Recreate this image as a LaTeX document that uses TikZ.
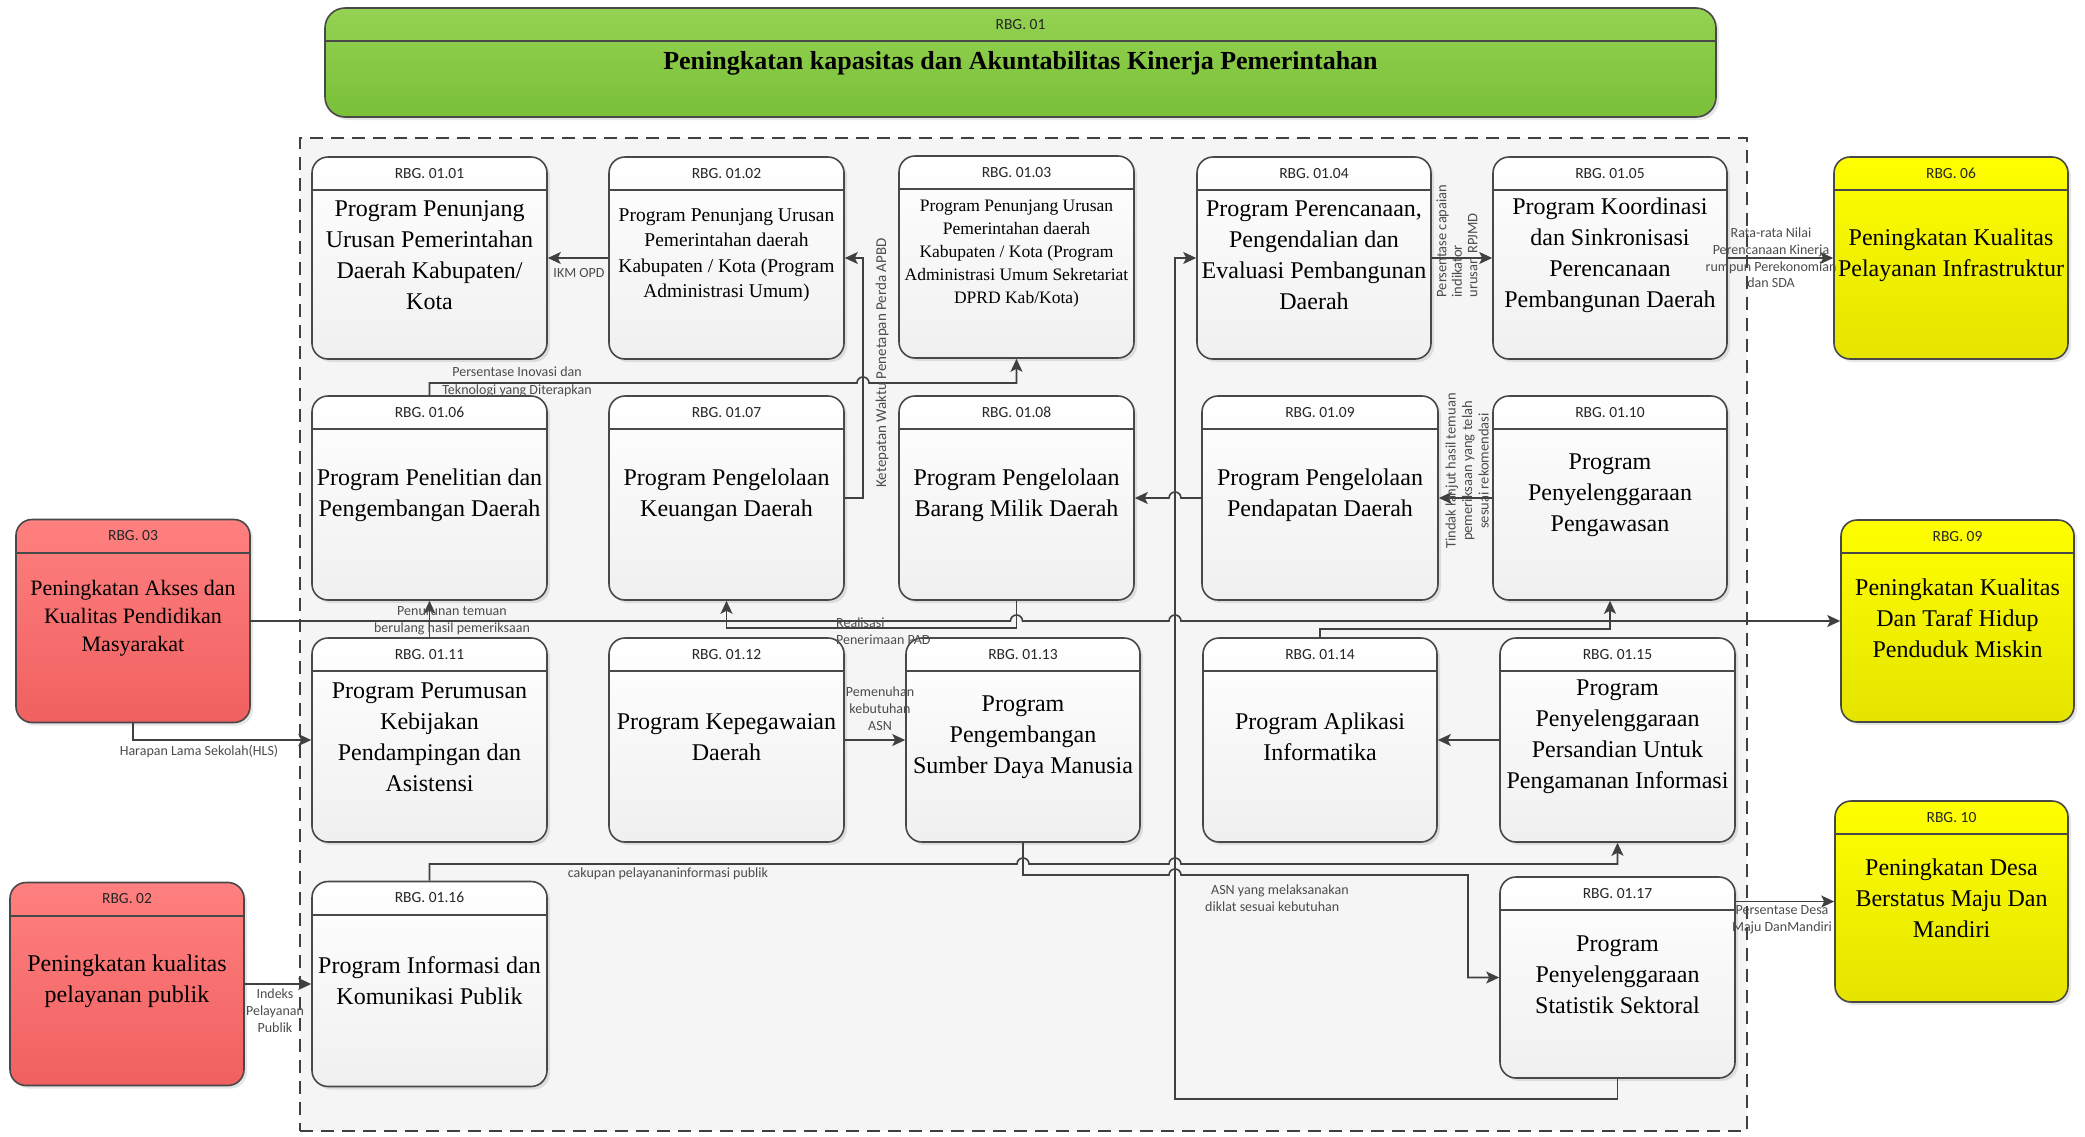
\documentclass[tikz,border=0pt]{standalone}
\usepackage{fontspec}
\setmainfont{Liberation Serif}
\newfontfamily\lblfont{Carlito}
\usetikzlibrary{arrows.meta,shadows,calc}

\definecolor{edge}{RGB}{72,72,72}
\definecolor{wire}{RGB}{64,64,64}
\definecolor{grTop}{RGB}{148,210,82}
\definecolor{grBot}{RGB}{122,192,56}
\definecolor{ylTop}{RGB}{255,255,0}
\definecolor{ylBot}{RGB}{228,228,0}
\definecolor{rdTop}{RGB}{255,128,128}
\definecolor{rdBot}{RGB}{240,96,96}

\tikzset{
  box/.style={rectangle, rounded corners=16pt, draw=edge, line width=1.6pt,
    inner sep=0pt,
    drop shadow={shadow xshift=3pt, shadow yshift=-3pt, opacity=0.2}},
  prog/.style={box, top color=white, bottom color=black!6},
  yel/.style={box, top color=ylTop, bottom color=ylBot},
  redb/.style={box, top color=rdTop, bottom color=rdBot},
  greenb/.style={box, rounded corners=20pt, top color=grTop, bottom color=grBot},
  divline/.style={draw=edge, line width=1.6pt},
  rbglbl/.style={font=\lblfont\fontsize{15.5}{18}\selectfont, text=black!85, inner sep=0pt},
  txtA/.style={align=center, inner sep=0pt, font=\fontsize{24}{31}\selectfont},
  txtB/.style={align=center, inner sep=0pt, font=\fontsize{19.5}{25.5}\selectfont},
  txtC/.style={align=center, inner sep=0pt, font=\fontsize{17.5}{23}\selectfont},
  txtR/.style={align=center, inner sep=0pt, font=\fontsize{22}{28}\selectfont},
  titletxt/.style={inner sep=0pt, font=\bfseries\fontsize{26}{30}\selectfont},
  lbl/.style={font=\lblfont\fontsize{14}{17}\selectfont, text=black!70, align=center, inner sep=0pt},
  conn/.style={draw=wire, line width=1.6pt, -{Stealth[length=13pt,width=12pt,inset=3pt]}},
  group/.style={rectangle, draw=black!75, line width=1.4pt, dash pattern=on 13pt off 8pt, fill=black!4}
}

% box: name, cx, cy, width, height, style, tag, text style, text
\newcommand\rbgbox[9]{%
  \node[#6, minimum width=#4pt, minimum height=#5pt] (#1) at (#2,#3) {};
  \draw[divline] ([yshift=-34pt]#1.north west) -- ([yshift=-34pt]#1.north east);
  \node[rbglbl] (#1lbl) at ([yshift=-17pt]#1.north) {#7};
  \node[#8] (#1txt) at ([yshift=3pt]#1.center) {#9};
}

\begin{document}
\begin{tikzpicture}[x=1pt,y=-1pt]
\useasboundingbox (0,0) rectangle (2085,1136);

% program group
\node[group, minimum width=1447pt, minimum height=993pt] (grp) at (1023.5,634.5) {};

% main goal
\node[greenb, minimum width=1391pt, minimum height=109pt] (r01) at (1020.5,62.5) {};
\draw[divline] ([yshift=-34pt]r01.north west) -- ([yshift=-34pt]r01.north east);
\node[rbglbl] (r01lbl) at ([yshift=-17pt]r01.north) {RBG. 01};
\node[titletxt] (r01txt) at (1020.5,63.5) {Peningkatan kapasitas dan Akuntabilitas Kinerja Pemerintahan};

% row 1
\rbgbox{p0101}{429.5}{258}{235}{202}{prog}{RBG. 01.01}{txtA}{Program Penunjang\\Urusan Pemerintahan\\Daerah Kabupaten/\\Kota}
\rbgbox{p0102}{726.5}{258}{235}{202}{prog}{RBG. 01.02}{txtB}{Program Penunjang Urusan\\Pemerintahan daerah\\Kabupaten / Kota (Program\\Administrasi Umum)}
\rbgbox{p0103}{1016.5}{257}{235}{202}{prog}{RBG. 01.03}{txtC}{Program Penunjang Urusan\\Pemerintahan daerah\\Kabupaten / Kota (Program\\Administrasi Umum Sekretariat\\DPRD Kab/Kota)}
\rbgbox{p0104}{1314}{258}{234}{202}{prog}{RBG. 01.04}{txtA}{Program Perencanaan,\\Pengendalian dan\\Evaluasi Pembangunan\\Daerah}
\rbgbox{p0105}{1610}{258}{234}{202}{prog}{RBG. 01.05}{txtA}{Program Koordinasi\\dan Sinkronisasi\\Perencanaan\\Pembangunan Daerah}
\rbgbox{r06}{1951}{258}{234}{202}{yel}{RBG. 06}{txtA}{Peningkatan Kualitas\\Pelayanan Infrastruktur}

% row 2
\rbgbox{p0106}{429.5}{498}{235}{204}{prog}{RBG. 01.06}{txtA}{Program Penelitian dan\\Pengembangan Daerah}
\rbgbox{p0107}{726.5}{498}{235}{204}{prog}{RBG. 01.07}{txtA}{Program Pengelolaan\\Keuangan Daerah}
\rbgbox{p0108}{1016.5}{498}{235}{204}{prog}{RBG. 01.08}{txtA}{Program Pengelolaan\\Barang Milik Daerah}
\rbgbox{p0109}{1320}{498}{236}{204}{prog}{RBG. 01.09}{txtA}{Program Pengelolaan\\Pendapatan Daerah}
\rbgbox{p0110}{1610}{498}{234}{204}{prog}{RBG. 01.10}{txtA}{Program\\Penyelenggaraan\\Pengawasan}
\rbgbox{r03}{133}{621}{234}{203}{redb}{RBG. 03}{txtR}{Peningkatan Akses dan\\Kualitas Pendidikan\\Masyarakat}
\rbgbox{r09}{1957.5}{621}{233}{202}{yel}{RBG. 09}{txtA}{Peningkatan Kualitas\\Dan Taraf Hidup\\Penduduk Miskin}

% row 3
\rbgbox{p0111}{429.5}{740}{235}{204}{prog}{RBG. 01.11}{txtA}{Program Perumusan\\Kebijakan\\Pendampingan dan\\Asistensi}
\rbgbox{p0112}{726.5}{740}{235}{204}{prog}{RBG. 01.12}{txtA}{Program Kepegawaian\\Daerah}
\rbgbox{p0113}{1023}{740}{234}{204}{prog}{RBG. 01.13}{txtA}{Program\\Pengembangan\\Sumber Daya Manusia}
\rbgbox{p0114}{1320}{740}{234}{204}{prog}{RBG. 01.14}{txtA}{Program Aplikasi\\Informatika}
\rbgbox{p0115}{1617.5}{740}{235}{204}{prog}{RBG. 01.15}{txtA}{Program\\Penyelenggaraan\\Persandian Untuk\\Pengamanan Informasi}

% row 4
\rbgbox{p0116}{429.5}{984}{235}{205}{prog}{RBG. 01.16}{txtA}{Program Informasi dan\\Komunikasi Publik}
\rbgbox{p0117}{1617.5}{977.5}{235}{201}{prog}{RBG. 01.17}{txtA}{Program\\Penyelenggaraan\\Statistik Sektoral}
\rbgbox{r02}{127}{984}{234}{203}{redb}{RBG. 02}{txtA}{Peningkatan kualitas\\pelayanan publik}
\rbgbox{r10}{1951.5}{901.5}{233}{201}{yel}{RBG. 10}{txtA}{Peningkatan Desa\\Berstatus Maju Dan\\Mandiri}

% connectors
\draw[conn] (p0102.west) -- (p0101.east);
\draw[conn] (p0107.east) -- (863,498) |- (p0102.east);
\draw[conn] (p0106.north) |- (857,383) arc[start angle=180,end angle=0,radius=6pt] -| (p0103.south);
\draw[conn] (p0108.south) -- (1016.5,628) -| (p0107.south);
\draw[conn] (p0111.north) -- (p0106.south);
\draw[conn] (r03.east) -- (1010.5,621) arc[start angle=180,end angle=0,radius=6pt]
  -- (1169,621) arc[start angle=180,end angle=0,radius=6pt] -- (r09.west);
\draw[conn] (p0110.west) -- (p0109.east);
\draw[conn] (p0109.west) -- (1181,498) arc[start angle=0,end angle=180,radius=6pt] -- (p0108.east);
\draw[conn] (p0114.north) -- (1320,629) -| (p0110.south);
\draw[conn] (p0117.south) |- (1175,1099) |- (p0104.west);
\draw[conn] (p0104.east) -- (p0105.west);
\draw[conn] (p0105.east) -- (r06.west);
\draw[conn] (r03.south) |- (p0111.west);
\draw[conn] (p0112.east) -- (p0113.west);
\draw[conn] (p0115.west) -- (p0114.east);
\draw[conn] (p0116.north) |- (1017,864) arc[start angle=180,end angle=0,radius=6pt]
  -- (1169,864) arc[start angle=180,end angle=0,radius=6pt] -| (p0115.south);
\draw[conn] (p0113.south) |- (1169,875) arc[start angle=180,end angle=0,radius=6pt]
  -- (1468,875) |- (p0117.west);
\draw[conn] (r02.east) -- (p0116.west);
\draw[conn] (p0117.east |- r10.west) -- (r10.west);

% connector labels
\node[lbl] (tIkm) at (579,273) {IKM OPD};
\node[lbl, rotate=90, font=\lblfont\fontsize{15}{17}\selectfont] (tKet) at (882,363) {Ketepatan Waktu Penetapan Perda APBD};
\node[lbl, font=\lblfont\fontsize{14}{18}\selectfont] (tInov) at (517,382) {Persentase Inovasi dan\\Teknologi yang Diterapkan};
\node[lbl, rotate=90, align=left, font=\lblfont\fontsize{14.5}{15.5}\selectfont] (tCap) at (1457,241) {Persentase capaian\\indikator\\urusan RPJMD};
\node[lbl, font=\lblfont\fontsize{14}{16.7}\selectfont] (tRata) at (1771,258) {Rata-rata Nilai\\Perencanaan Kinerja\\rumpun Perekonomian\\dan SDA};
\node[lbl, rotate=90, font=\lblfont\fontsize{14.5}{16.5}\selectfont] (tTindak) at (1467,471) {Tindak lanjut hasil temuan\\pemeriksaan yang telah\\sesuai rekomendasi};
\node[lbl, anchor=west, align=left] (tReal) at (836,631) {Realisasi\\Penerimaan PAD};
\node[lbl] (tTurun) at (452,621) {Penurunan temuan\\berulang hasil pemeriksaan};
\node[lbl] (tHls) at (199,751) {Harapan Lama Sekolah(HLS)};
\node[lbl] (tAsn) at (880,709) {Pemenuhan\\kebutuhan\\ASN};
\node[lbl] (tCak) at (668,874) {cakupan pelayananinformasi publik};
\node[lbl, anchor=west, align=left] (tDik) at (1205,898) {\hspace{6pt}ASN yang melaksanakan\\diklat sesuai kebutuhan};
\node[lbl] (tIpp) at (275,1011) {Indeks\\Pelayanan\\Publik};
\node[lbl] (tDesa) at (1782,920) {Persentase Desa\\Maju DanMandiri};
\end{tikzpicture}
\end{document}
